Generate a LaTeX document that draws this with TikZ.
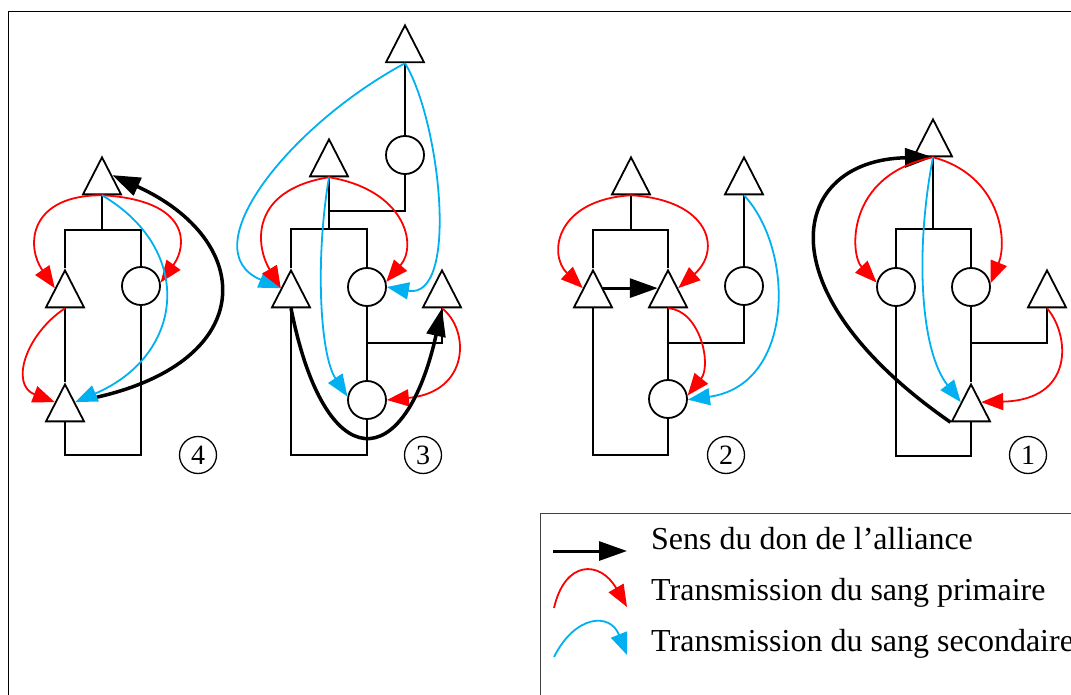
\documentclass[tikz,border=0pt]{standalone}
\usepackage{fontspec}
\setmainfont{Liberation Serif}
\usetikzlibrary{arrows.meta, shapes.geometric}
\definecolor{sangp}{HTML}{FF0000}
\definecolor{sangs}{HTML}{00B0F0}

\begin{document}
\begin{tikzpicture}[x=1pt,y=-1pt,
  male/.style={isosceles triangle,isosceles triangle stretches,shape border rotate=90,draw,line width=1.8pt,
    minimum width=38pt,minimum height=37pt,inner sep=0pt,anchor=apex},
  female/.style={circle,draw,line width=1.8pt,minimum size=38pt,inner sep=0pt},
  num/.style={circle,draw,line width=1.3pt,minimum size=37pt,inner sep=0pt,font=\fontsize{28}{28}\selectfont},
  lien/.style={line width=1.8pt},
  alliance/.style={-{Triangle[length=28pt,width=19pt]},line width=3.5pt},
  primaire/.style={-{Triangle[length=22pt,width=17pt]},line width=1.8pt,color=sangp},
  secondaire/.style={-{Triangle[length=22pt,width=17pt]},line width=1.8pt,color=sangs},
  leg/.style={anchor=base west,inner sep=0pt,font=\fontsize{32}{38}\selectfont}]
  \useasboundingbox (0,0) rectangle (1071,695);
  \draw[line width=1.5pt] (8.3,720) |- (1100,11.7);
  \draw[line width=1.2pt,draw=black!75] (540.7,513.3) rectangle (1100,720);

  \node[male] (T4) at (102,155) {};
  \node[male] (A4) at (65,268) {};
  \node[female] (C4) at (141,286) {};
  \node[male] (B4) at (65,382) {};
  \node[num] (n4) at (198,455) {4};
  \coordinate (m4) at (102,230);
  \coordinate (b4) at (102,455);
  \draw[lien] (T4.lower side) -- (m4);
  \draw[lien] (A4.apex) |- (m4) -| (C4.north);
  \draw[lien] (A4.lower side) -- (B4.apex);
  \draw[lien] (B4.lower side) |- (b4) -| (C4.south);
  \draw[primaire] (T4.lower side) .. controls (30,195) and (25,245) .. (A4.left side);
  \draw[primaire] (T4.lower side) .. controls (190,200) and (188,245) .. (C4.10);
  \draw[primaire] (A4.lower side) .. controls (25,335) and (10,385) .. (B4.left side);
  \draw[alliance,shorten <=22pt] (B4.right side) .. controls (260,360) and (255,240) .. (T4.right side);
  \draw[secondaire] (T4.lower side) .. controls (195,250) and (185,355) .. (B4.right side);

  \node[male] (T3a) at (405,23) {};
  \node[female] (C3a) at (405,155) {};
  \node[male] (T3b) at (329,137) {};
  \node[male] (A3) at (291,268) {};
  \node[female] (C3b) at (367,287) {};
  \node[male] (R3) at (442,268) {};
  \node[female] (C3c) at (367,400) {};
  \node[num] (n3) at (423,455) {3};
  \coordinate (j3) at (329,211);
  \coordinate (m3) at (329,229);
  \coordinate (k3) at (367,343);
  \coordinate (b3) at (329,455);
  \draw[lien] (T3a.lower side) -- (C3a.north);
  \draw[lien] (C3a.south) |- (j3);
  \draw[lien] (T3b.lower side) -- (m3);
  \draw[lien] (A3.apex) |- (m3) -| (C3b.north);
  \draw[lien] (C3b.south) -- (C3c.north);
  \draw[lien] (R3.lower side) |- (k3);
  \draw[lien] (A3.lower side) |- (b3) -| (C3c.south);
  \draw[secondaire] (T3a.lower side) .. controls (290,125) and (190,250) .. (A3.left side);
  \draw[secondaire] (T3a.lower side) .. controls (440,120) and (460,300) .. (C3b.0);
  \draw[primaire] (T3b.lower side) .. controls (250,190) and (255,245) .. (A3.left side);
  \draw[primaire] (T3b.lower side) .. controls (405,190) and (418,245) .. (C3b.15);
  \draw[secondaire] (T3b.lower side) .. controls (315,260) and (320,355) .. (C3c.170);
  \draw[primaire] (R3.lower side) .. controls (470,330) and (470,392) .. (C3c.east);
  \draw[alliance] (A3.lower side) .. controls (325,480) and (405,475) .. (R3.lower side);

  \node[male] (T2a) at (631,155) {};
  \node[male] (T2b) at (744,155) {};
  \node[male] (A2) at (593,268) {};
  \node[male] (B2) at (668,268) {};
  \node[female] (C2a) at (744,286) {};
  \node[female] (C2b) at (668,399) {};
  \node[num] (n2) at (726,455) {2};
  \coordinate (m2) at (631,230);
  \coordinate (k2) at (668,343);
  \coordinate (b2) at (631,455);
  \draw[lien] (T2a.lower side) -- (m2);
  \draw[lien] (A2.apex) |- (m2) -| (B2.apex);
  \draw[lien] (T2b.lower side) -- (C2a.north);
  \draw[lien] (C2a.south) |- (k2);
  \draw[lien] (B2.lower side) -- (C2b.north);
  \draw[lien] (A2.lower side) |- (b2) -| (C2b.south);
  \draw[primaire] (T2a.lower side) .. controls (555,200) and (548,255) .. (A2.left side);
  \draw[primaire] (T2a.lower side) .. controls (710,200) and (722,250) .. (B2.right side);
  \draw[alliance,line width=3.2pt] (A2.right side) -- (B2.left side);
  \draw[primaire] (B2.lower side) .. controls (700,310) and (712,365) .. (C2b.10);
  \draw[secondaire] (T2b.lower side) .. controls (795,250) and (795,385) .. (C2b.-2);

  \node[male] (T1) at (933,117) {};
  \node[female] (C1a) at (896,287) {};
  \node[female] (C1b) at (971,287) {};
  \node[male] (R1) at (1047,268) {};
  \node[male] (B1) at (971,382) {};
  \node[num] (n1) at (1028,455) {1};
  \coordinate (m1) at (933,229);
  \coordinate (k1) at (971,343);
  \coordinate (b1) at (933,456);
  \draw[lien] (T1.lower side) -- (m1);
  \draw[lien] (C1a.north) |- (m1) -| (C1b.north);
  \draw[lien] (C1b.south) -- (B1.apex);
  \draw[lien] (R1.lower side) |- (k1);
  \draw[lien] (C1a.south) |- (b1) -| (B1.lower side);
  \draw[alliance] (B1.left corner) .. controls (760,290) and (790,160) .. (T1.lower side);
  \draw[primaire] (T1.lower side) .. controls (845,175) and (850,255) .. (C1a.167);
  \draw[primaire] (T1.lower side) .. controls (1000,175) and (1008,240) .. (C1b.11);
  \draw[secondaire] (T1.lower side) .. controls (915,250) and (920,350) .. (B1.left side);
  \draw[primaire] (R1.lower side) .. controls (1070,335) and (1075,400) .. (B1.right side);

  \coordinate (la0) at (553,551);
  \coordinate (la1) at (627,551);
  \draw[alliance,line width=3pt] (la0) -- (la1);
  \node[leg] (la) at (651,549) {Sens du don de l’alliance};
  \coordinate (lp0) at (554,608);
  \coordinate (lp1) at (627,607);
  \draw[primaire] (lp0) .. controls (565,560) and (600,560) .. (lp1);
  \node[leg] (lp) at (651,600) {Transmission du sang primaire};
  \coordinate (ls0) at (554,657);
  \coordinate (ls1) at (627,655);
  \draw[secondaire] (ls0) .. controls (575,615) and (610,612) .. (ls1);
  \node[leg] (ls) at (651,651) {Transmission du sang secondaire};
\end{tikzpicture}
\end{document}
